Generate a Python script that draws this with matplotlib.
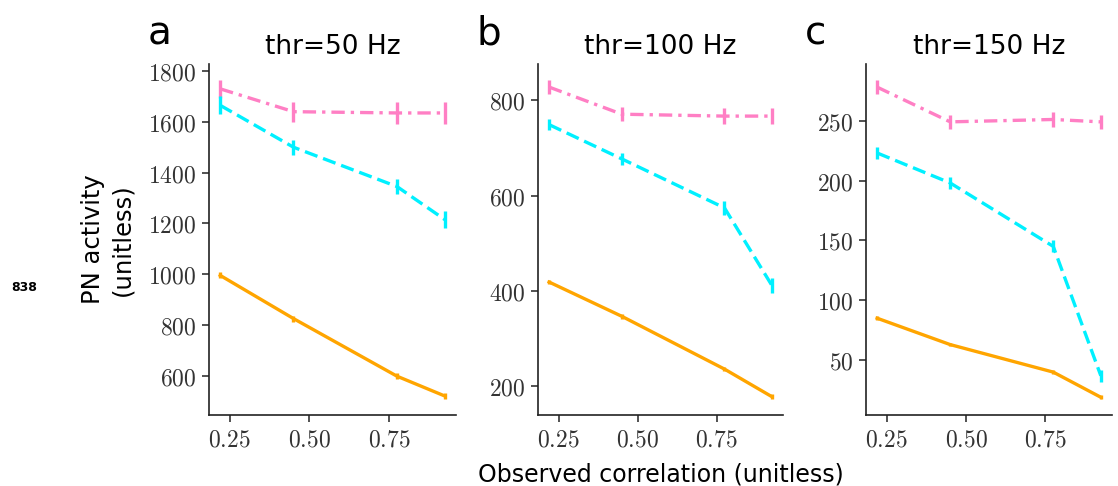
import matplotlib
matplotlib.use("Agg")
import matplotlib.pyplot as plt
from matplotlib.ticker import FuncFormatter

plt.rcParams['mathtext.fontset'] = 'cm'

x = [0.22, 0.45, 0.775, 0.925]
thresholds = ["thr=50 Hz", "thr=100 Hz", "thr=150 Hz"]
letters = ["a", "b", "c"]

pink = [[1730, 1640, 1635, 1635], [828, 771, 767, 767], [278, 249, 251, 249]]
pink_err = [[35, 40, 45, 45], [15, 15, 17, 17], [6, 6, 6, 6]]
cyan = [[1665, 1500, 1345, 1215], [749, 677, 574, 411], [223, 198, 145, 37]]
cyan_err = [[35, 30, 30, 35], [12, 12, 15, 15], [5, 5, 5, 5]]
orange = [[995, 825, 598, 520], [418, 346, 235, 177], [85, 63, 40, 19]]
orange_err = [[12, 12, 12, 12], [5, 5, 5, 5], [1.5, 1.5, 1.5, 1.5]]

yticks = [[600, 800, 1000, 1200, 1400, 1600, 1800], [200, 400, 600, 800], [50, 100, 150, 200, 250]]
xticks = [0.25, 0.50, 0.75]

fig = plt.figure(figsize=(11.18, 4.86), dpi=100)
lefts = [209, 538, 866]
rights = [456, 783, 1112]
W, H = 1118, 486
top, bottom = 64, 415

fmt_x = FuncFormatter(lambda v, p: r"$%.2f$" % v)
fmt_y = FuncFormatter(lambda v, p: r"$%d$" % v)

for i in range(3):
    ax = fig.add_axes([lefts[i] / W, 1 - bottom / H, (rights[i] - lefts[i]) / W, (bottom - top) / H])
    ax.errorbar(x, pink[i], yerr=pink_err[i], color='#ff7fc4', ls=(0, (4, 1.8, 1, 1.8)), lw=2.4, capsize=0, elinewidth=2.4)
    ax.errorbar(x, cyan[i], yerr=cyan_err[i], color='#00f0ff', ls=(0, (4, 1.8)), lw=2.4, capsize=0, elinewidth=2.4)
    ax.errorbar(x, orange[i], yerr=orange_err[i], color='#ffa500', ls='-', lw=2.4, capsize=0, elinewidth=2.4)
    for s in ['top', 'right']:
        ax.spines[s].set_visible(False)
    for s in ['left', 'bottom']:
        ax.spines[s].set_color('#222222')
        ax.spines[s].set_linewidth(1.2)
    ax.set_xticks(xticks)
    ax.set_yticks(yticks[i])
    ax.xaxis.set_major_formatter(fmt_x)
    ax.yaxis.set_major_formatter(fmt_y)
    ax.tick_params(labelsize=17, colors='#333333', length=5, width=1.2, direction='out', pad=4)
    ax.set_title(thresholds[i], fontsize=19, pad=7)
    ax.text(-0.25, 1.055, letters[i], transform=ax.transAxes, fontsize=28, va='baseline', ha='left')
    if i == 0:
        ax.set_ylabel("PN activity\n(unitless)", fontsize=17.5, labelpad=10, linespacing=1.3)
    if i == 1:
        ax.set_xlabel("Observed correlation (unitless)", fontsize=17, labelpad=8)

fig.text(24 / W, 1 - 287 / H, "838", fontsize=9, fontweight='bold', ha='center', va='center')

fig.savefig("out.png", dpi=100)
